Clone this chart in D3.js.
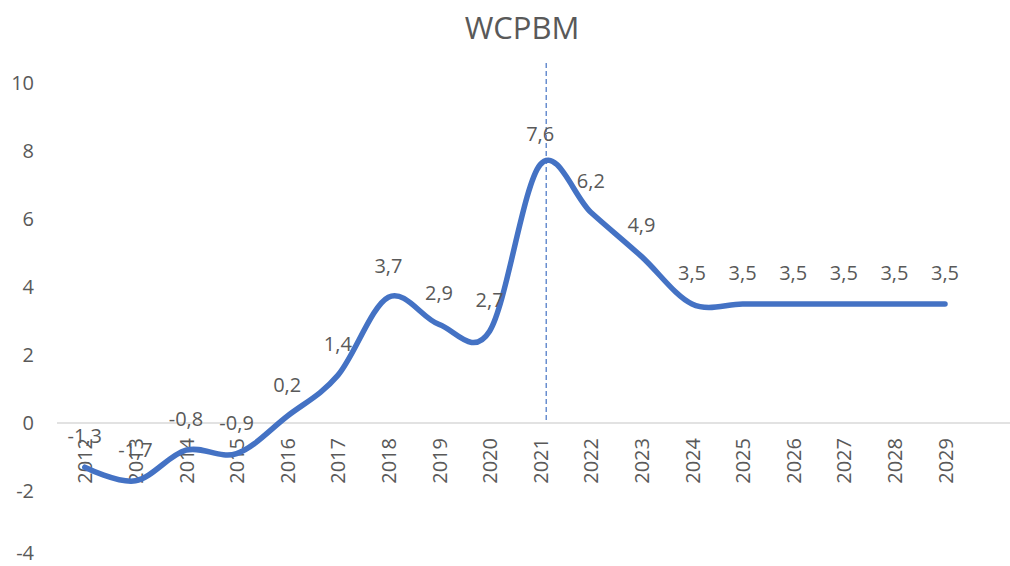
<!DOCTYPE html>
<html>
<head>
<meta charset="utf-8">
<script src="https://cdn.jsdelivr.net/npm/d3@7/dist/d3.min.js"></script>
<style>
  html, body { margin: 0; padding: 0; background: #fff; }
  svg { display: block; font-family: "Open Sans", "Liberation Sans", sans-serif; }
</style>
</head>
<body>
<svg id="chart" width="1010" height="566"></svg>
<script>
const title = "WCPBM";
const years = ["2012","2013","2014","2015","2016","2017","2018","2019","2020","2021","2022","2023","2024","2025","2026","2027","2028","2029"];
const values = [-1.3,-1.7,-0.8,-0.9,0.2,1.4,3.7,2.9,2.7,7.6,6.2,4.9,3.5,3.5,3.5,3.5,3.5,3.5];
const yTicks = [-4,-2,0,2,4,6,8,10];
const markerYear = "2021";

const svg = d3.select("#chart");
const textColor = "#595959";
const lineColor = "#4472C4";

const step = 50.6;
const x = d3.scalePoint().domain(years).range([84.8, 84.8 + step * (years.length - 1)]);
const y = d3.scaleLinear().domain([-4, 10]).range([559, 83]);

// Title
svg.append("text")
  .attr("x", 522).attr("y", 39)
  .attr("text-anchor", "middle")
  .attr("fill", textColor)
  .style("font-size", "31px")
  .text(title);

// Y axis labels
const yAxis = d3.axisLeft(y).tickValues(yTicks).tickSize(0).tickPadding(0)
  .tickFormat(d => String(d));
const gy = svg.append("g").attr("transform", "translate(34,0)").call(yAxis);
gy.select(".domain").remove();
gy.selectAll("text").attr("fill", textColor).style("font-size", "20px")
  .style("font-family", "'Open Sans', sans-serif");
// keep the lowest label inside the canvas
gy.selectAll(".tick").filter(d => d === -4).select("text").attr("dy", "0em");

// Zero axis line
svg.append("line")
  .attr("x1", 57).attr("x2", 1010)
  .attr("y1", y(0)).attr("y2", y(0))
  .attr("stroke", "#d9d9d9").attr("stroke-width", 1.5);

// X axis labels (rotated)
const xAxis = d3.axisBottom(x).tickSize(0).tickPadding(0);
const gx = svg.append("g").attr("transform", `translate(0,${y(0)})`).call(xAxis);
gx.select(".domain").remove();
gx.selectAll(".tick text")
  .attr("fill", textColor)
  .style("font-size", "20px")
  .style("font-family", "'Open Sans', sans-serif")
  .attr("text-anchor", "end")
  .attr("dy", "0.35em")
  .attr("y", 0)
  .attr("transform", "translate(0,15) rotate(-90)");

// Dashed marker line
svg.append("line")
  .attr("x1", x(markerYear) + 6).attr("x2", x(markerYear) + 6)
  .attr("y1", 63).attr("y2", y(0))
  .attr("stroke", lineColor).attr("stroke-width", 1.2)
  .attr("stroke-dasharray", "5,3");

// Line
const line = d3.line()
  .x((d, i) => x(years[i]))
  .y(d => y(d))
  .curve(d3.curveCardinal.tension(0));
svg.append("path")
  .datum(values)
  .attr("d", line)
  .attr("fill", "none")
  .attr("stroke", lineColor)
  .attr("stroke-width", 5.5)
  .attr("stroke-linecap", "round")
  .attr("stroke-linejoin", "round");

// Data labels
svg.append("g").selectAll("text")
  .data(values)
  .join("text")
  .attr("x", (d, i) => x(years[i]))
  .attr("y", d => y(d) - 24)
  .attr("text-anchor", "middle")
  .attr("fill", textColor)
  .style("font-size", "20px")
  .text(d => String(d).replace(".", ","));
</script>
</body>
</html>
